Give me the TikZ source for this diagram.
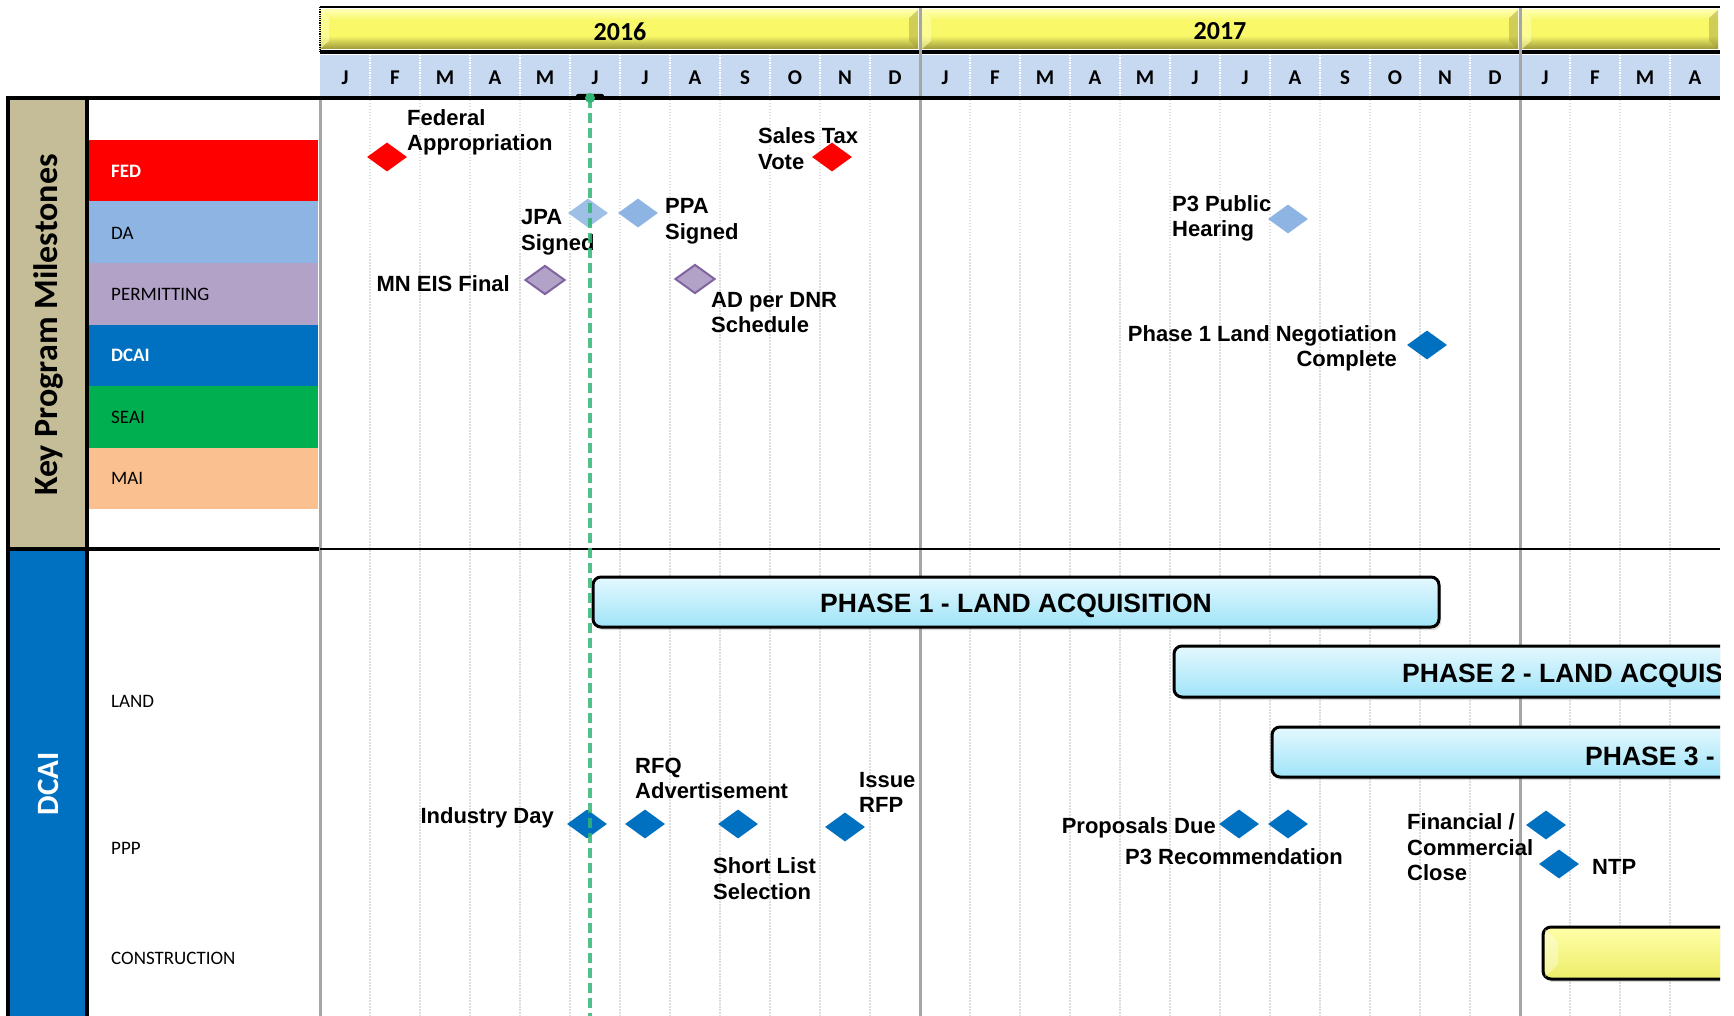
\documentclass[tikz,border=0pt]{standalone}
\usepackage{fontspec}
\usepackage{tikz}
\usetikzlibrary{shapes.geometric,shadows,positioning}
\newfontfamily\arialf{Liberation Sans}
\newfontfamily\calf{Carlito}

\definecolor{fedred}{HTML}{FF0000}
\definecolor{dablue}{HTML}{8DB4E2}
\definecolor{permpurple}{HTML}{B3A2C7}
\definecolor{permedge}{HTML}{8064A2}
\definecolor{dcaiblue}{HTML}{0070C0}
\definecolor{seaigreen}{HTML}{00B050}
\definecolor{maiorange}{HTML}{FAC090}
\definecolor{keytan}{HTML}{C4BD97}
\definecolor{monthblue}{HTML}{C6D9F1}
\definecolor{yeargray}{HTML}{A6A6A6}
\definecolor{gridgray}{HTML}{DDDDDD}
\definecolor{todaygreen}{HTML}{33B575}
\definecolor{phasetop}{HTML}{E4F8FE}
\definecolor{phasebot}{HTML}{A0E4F8}
\definecolor{yelltop}{HTML}{FFFFB0}
\definecolor{yellmid}{HTML}{F8F868}
\definecolor{yellbot}{HTML}{9E9A3A}
\definecolor{contop}{HTML}{FFFFA8}
\definecolor{conbot}{HTML}{EDED6A}

\pgfdeclareverticalshading{yellowbevel}{100bp}{color(0bp)=(yellbot); color(25bp)=(yellbot); color(42bp)=(yellmid); color(62bp)=(yellmid); color(75bp)=(yelltop); color(100bp)=(yelltop)}

\tikzset{
  ms/.style={diamond, minimum width=40pt, minimum height=29pt, inner sep=0pt},
  fedms/.style={ms, fill=fedred},
  dams/.style={ms, fill=dablue},
  permms/.style={ms, fill=permpurple, draw=permedge, line width=2pt},
  dcaims/.style={ms, fill=dcaiblue},
  lbl/.style={font=\arialf\bfseries\fontsize{22}{25.5}\selectfont, inner sep=0pt, yshift=-2.5pt},
  lbll/.style={lbl, align=left, anchor=west},
  lblr/.style={lbl, align=right, anchor=east},
  rowlbl/.style={font=\calf\fontsize{19}{22}\selectfont, anchor=west, inner sep=0pt},
  monthlbl/.style={font=\calf\bfseries\fontsize{21}{24}\selectfont, inner sep=0pt, yshift=-2pt},
  yearlbl/.style={font=\calf\bfseries\fontsize{26}{30}\selectfont, inner sep=0pt, yshift=-1.5pt},
  phasebar/.style={draw=black, line width=3pt, rounded corners=8pt, top color=phasetop, bottom color=phasebot,
    drop shadow={opacity=0.3, shadow xshift=2pt, shadow yshift=-3pt}},
  phaselbl/.style={font=\arialf\bfseries\fontsize{26.5}{30}\selectfont, inner sep=0pt, yshift=-4pt},
}

\begin{document}
\begin{tikzpicture}[x=1pt,y=-1pt]
\useasboundingbox (0,0) rectangle (1734,1016);

\fill[monthblue] (320,55) rectangle (1720,97);
\foreach \m in {1,...,27}
  \draw[white, line width=1.5pt, densely dotted] ({320+50*\m},55) -- ({320+50*\m},97);
\foreach \a/\b in {320/918, 922/1518, 1522/1718} {
  \shade[shading=yellowbevel] (\a,10) rectangle (\b,49);
  \fill[yellbot, opacity=0.45] (\b,10) -- ({\b-9},18) -- ({\b-9},41) -- (\b,49) -- cycle;
  \fill[yelltop, opacity=0.6] (\a,10) -- ({\a+9},18) -- ({\a+9},41) -- (\a,49) -- cycle;
}
\draw[line width=2.5pt] (320,7) -- (1720,7);
\draw[line width=4pt] (320,52) -- (1720,52);
\draw[densely dotted, line width=1.2pt] (320,7) -- (320,52);
\node[yearlbl] (y2016) at (620,30) {2016};
\node[yearlbl] (y2017) at (1220,30) {2017};
\foreach \l [count=\i from 0] in {J,F,M,A,M,J,J,A,S,O,N,D,J,F,M,A,M,J,J,A,S,O,N,D,J,F,M,A}
  \node[monthlbl] (m\i) at ({345+50*\i},76) {\l};

\foreach \m in {1,...,11,13,14,...,23,25,26,27}
  \draw[gridgray, line width=1.5pt, dash pattern=on 1.5pt off 1.5pt] ({320+50*\m},100) -- ({320+50*\m},1016);
\draw[yeargray, line width=3pt] (920,8) -- (920,1016);
\draw[yeargray, line width=3pt] (1520,8) -- (1520,1016);
\draw[yeargray, line width=3pt] (320,98) -- (320,1016);

\fill[keytan] (10,100) rectangle (85,547);
\fill[dcaiblue] (10,551) rectangle (85,1016);
\fill[fedred] (89,140) rectangle (318,201.5);
\fill[dablue] (89,201.5) rectangle (318,263);
\fill[permpurple] (89,263) rectangle (318,324.5);
\fill[dcaiblue] (89,324.5) rectangle (318,386);
\fill[seaigreen] (89,386) rectangle (318,447.5);
\fill[maiorange] (89,447.5) rectangle (318,509);
\node[rowlbl, text=white, font=\calf\bfseries\fontsize{19}{22}\selectfont] (fed) at (111,171) {FED};
\node[rowlbl] (da) at (111,233) {DA};
\node[rowlbl] (permitting) at (111,294) {PERMITTING};
\node[rowlbl, text=white, font=\calf\bfseries\fontsize{19}{22}\selectfont] (dcai) at (111,355) {DCAI};
\node[rowlbl] (seai) at (111,417) {SEAI};
\node[rowlbl] (mai) at (111,478) {MAI};
\node[rowlbl] (land) at (111,701) {LAND};
\node[rowlbl] (ppp) at (111,848) {PPP};
\node[rowlbl] (construction) at (111,958) {CONSTRUCTION};
\node[rotate=90, font=\calf\bfseries\fontsize{34}{40}\selectfont] (keyms) at (48,325) {Key Program Milestones};
\node[rotate=90, text=white, font=\calf\bfseries\fontsize{31}{36}\selectfont] (dcaititle) at (48,784) {DCAI};

\draw[line width=4pt] (6,98) -- (1720,98);
\draw[line width=4pt] (8,96) -- (8,1016);
\draw[line width=4pt] (87,96) -- (87,1016);
\draw[line width=4pt] (6,549) -- (319,549);
\draw[line width=1.5pt] (320,549) -- (1720,549);

\draw[phasebar] (593,577) rectangle (1439,627);
\node[phaselbl] (ph1) at (1016,602) {PHASE 1 - LAND ACQUISITION};
\begin{scope}
  \clip (320,0) rectangle (1720,1016);
  \draw[phasebar] (1174,646) rectangle (1790,697);
  \draw[phasebar] (1272,727) rectangle (1790,777);
  \draw[line width=3pt, rounded corners=8pt, top color=contop, bottom color=conbot,
    drop shadow={opacity=0.3, shadow xshift=2pt, shadow yshift=-3pt}] (1543,927) rectangle (1790,979);
  \fill[white, opacity=0.35] (1545,929) -- (1558,942) -- (1558,964) -- (1545,977) -- cycle;
  \node[phaselbl, anchor=west] (ph2) at (1402,672) {PHASE 2 - LAND ACQUIS};
  \node[phaselbl, anchor=west] (ph3) at (1585,752) {PHASE 3 -};
\end{scope}

\node[fedms] (fedapp) at (387,157) {};
\node[lbll] (fedapplbl) at (407,130) {Federal\\Appropriation};
\node[fedms] (salestax) at (832,157) {};
\node[lbll] (salestaxlbl) at (758,146) {Sales Tax\\Vote};
\node[dams, opacity=0.85] (jpa) at (588,213) {};
\node[lbll] (jpalbl) at (521,230) {JPA\\Signed};
\node[dams] (ppa) at (638,213) {};
\node[lbll] (ppalbl) at (665,219) {PPA\\Signed};
\node[permms] (mneis) at (545,280) {};
\node[lblr] (mneislbl) at (510,281) {MN EIS Final};
\node[permms] (addnr) at (695,279) {};
\node[lbll] (addnrlbl) at (711,310) {AD per DNR\\Schedule};
\node[dams] (p3hear) at (1288,219) {};
\node[lbll] (p3hearlbl) at (1172,216) {P3 Public\\Hearing};
\node[dcaims] (ph1neg) at (1427,345) {};
\node[lblr] (ph1neglbl) at (1397,346) {Phase 1 Land Negotiation\\Complete};

\node[dcaims] (indday) at (587,824) {};
\node[lblr] (inddaylbl) at (554,815) {Industry Day};
\node[dcaims] (rfqad) at (645,824) {};
\node[lbll] (rfqadlbl) at (635,776) {RFQ\\Advertisement};
\node[dcaims] (shortlist) at (738,824) {};
\node[lbll] (shortlistlbl) at (713,876) {Short List\\Selection};
\node[dcaims] (issuerfp) at (845,827) {};
\node[lbll] (issuerfplbl) at (859,790) {Issue\\RFP};
\node[dcaims] (propdue) at (1239,824) {};
\node[lblr] (propduelbl) at (1216,825) {Proposals Due};
\node[dcaims] (p3rec) at (1288,824) {};
\node[lbll] (p3reclbl) at (1125,854) {P3 Recommendation};
\node[dcaims] (finclose) at (1546,825) {};
\node[lbll] (finclosellbl) at (1407,845) {Financial /\\Commercial\\Close};
\node[dcaims] (ntp) at (1559,864) {};
\node[lbll] (ntplbl) at (1592,864) {NTP};

\coordinate (todaytop) at (590,98);
\coordinate (todaybot) at (590,1016);
\fill[rounded corners=2pt] (576,94) rectangle (604,100);
\draw[todaygreen, opacity=0.85, line width=3.5pt, dash pattern=on 10pt off 5pt] (todaytop) -- (todaybot);
\fill[todaygreen] (todaytop) circle (5pt);
\end{tikzpicture}
\end{document}
